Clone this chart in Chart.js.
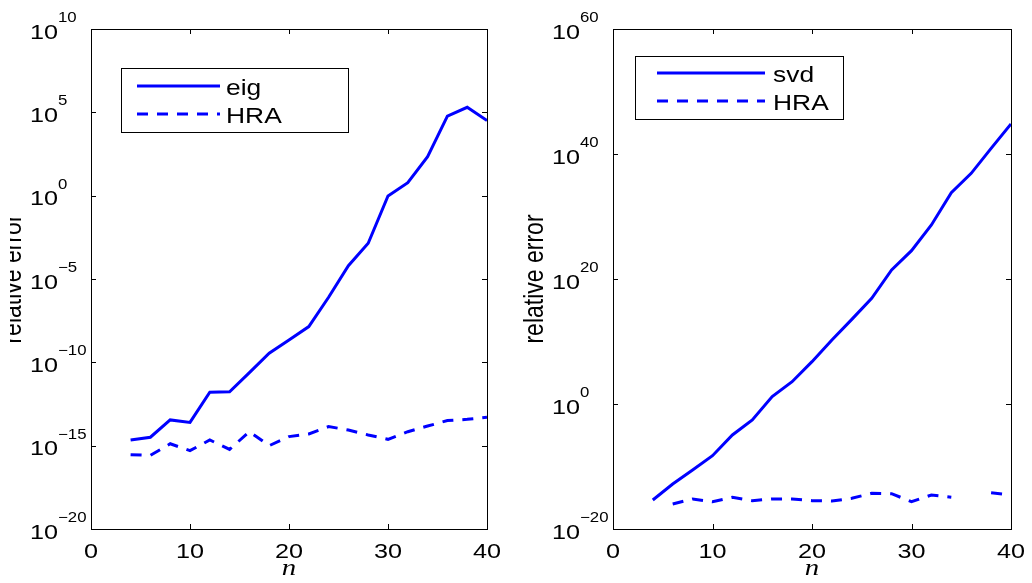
<!DOCTYPE html>
<html lang="en">
<head>
<meta charset="UTF-8">
<title>Relative error vs n</title>
<script src="https://cdn.jsdelivr.net/npm/chart.js"></script>
<style>
  body { margin: 0; background: #fff; }
  .panel { position: absolute; top: 0; width: 516px; height: 583px; }
</style>
</head>
<body>
<div class="panel" style="left:0"><canvas id="eigChart" width="516" height="583"></canvas></div>
<div class="panel" style="left:516px"><canvas id="svdChart" width="516" height="583"></canvas></div>

<script>
// matrix sizes
const nValues = [4, 6, 8, 10, 12, 14, 16, 18, 20, 22, 24, 26, 28, 30, 32, 34, 36, 38, 40];

// left panel: eigenvalues
const eigError = [2.2e-15, 3.2e-15, 3.5e-14, 2.5e-14, 1.6e-12, 1.7e-12, 2.4e-11, 3.5e-10, 2.2e-9, 1.4e-8,
                  8e-7, 6.3e-5, 1.4e-3, 0.95, 6, 220, 6e4, 2e5, 3.2e4];
const hraEigError = [2.9e-16, 2.6e-16, 1.3e-15, 5e-16, 2.2e-15, 6e-16, 6.9e-15, 1e-15, 3.5e-15, 5e-15,
                     1.4e-14, 8.7e-15, 4.4e-15, 2.4e-15, 6.9e-15, 1.5e-14, 3.2e-14, 3.8e-14, 5e-14];

// right panel: singular values
const svdError = [4.4e-16, 1.6e-13, 2.8e-11, 5.4e-9, 1.1e-5, 2.8e-3, 15, 3.7e3, 5.9e6, 1.7e10,
                  3.5e13, 8.1e16, 2.8e21, 3.4e24, 4.4e28, 6.5e33, 8.1e36, 8.1e40, 6.3e44];
const hraSvdError = [null, 1e-16, 6.3e-16, 2.3e-16, 1.2e-15, 3.4e-16, 6.3e-16, 6.3e-16, 3.4e-16, 3e-16,
                     8.1e-16, 5.1e-15, 4.5e-15, 2.3e-16, 2.8e-15, 1.2e-15, null, 6.5e-15, 2.8e-15];

// tick labels
const xTicks = [0, 10, 20, 30, 40];
const eigYExponents = [10, 5, 0, -5, -10, -15, -20];
const svdYExponents = [60, 40, 20, 0, -20];

const BLUE = '#0000ff';
const SANS = '"Liberation Sans", Arial, Helvetica, sans-serif';
const STRETCH = 1.2; // glyphs in the picture are a bit wide

function drawText(ctx, text, x, y, font, align) {
    ctx.save();
    ctx.font = font;
    ctx.textAlign = 'left';
    ctx.textBaseline = 'alphabetic';
    const w = ctx.measureText(text).width * STRETCH;
    const x0 = align === 'center' ? x - w / 2 : x;
    ctx.translate(x0, y);
    ctx.scale(STRETCH, 1);
    ctx.fillText(text, 0, 0);
    ctx.restore();
    return w;
}

// box, inward ticks, labels and legend in the MATLAB way
const matlabAxes = {
    id: 'matlabAxes',
    afterDraw(chart, args, opts) {
        const ctx = chart.ctx;
        const a = chart.chartArea;
        const xs = chart.scales.x, ys = chart.scales.y;
        ctx.save();
        ctx.strokeStyle = '#000';
        ctx.fillStyle = '#000';
        ctx.lineWidth = 1;
        ctx.setLineDash([]);
        ctx.strokeRect(a.left + 0.5, a.top + 0.5, a.right - a.left, a.bottom - a.top);

        ctx.beginPath();
        xTicks.forEach(v => {
            const px = Math.round(xs.getPixelForValue(v)) + 0.5;
            ctx.moveTo(px, a.bottom); ctx.lineTo(px, a.bottom - 5);
            ctx.moveTo(px, a.top); ctx.lineTo(px, a.top + 5);
        });
        opts.yExponents.forEach(e => {
            const py = Math.round(ys.getPixelForValue(Math.pow(10, e))) + 0.5;
            ctx.moveTo(a.left, py); ctx.lineTo(a.left + 5, py);
            ctx.moveTo(a.right, py); ctx.lineTo(a.right - 5, py);
        });
        ctx.stroke();

        // x tick labels
        xTicks.forEach(v => {
            drawText(ctx, String(v), xs.getPixelForValue(v), a.bottom + 29, '21px ' + SANS, 'center');
        });
        // y tick labels 10^k
        opts.yExponents.forEach(e => {
            const py = ys.getPixelForValue(Math.pow(10, e));
            const bx = a.left - 61;
            const w = drawText(ctx, '10', bx, py + 9.5, '21px ' + SANS);
            const exp = e < 0 ? '\u2212' + (-e) : String(e);
            drawText(ctx, exp, bx + w, py - 7, '14px ' + SANS);
        });

        // x label
        const cx = (a.left + a.right) / 2;
        drawText(ctx, 'n', cx, 575, 'italic 24px "Liberation Serif", "Times New Roman", serif', 'center');

        // y label
        ctx.save();
        ctx.beginPath();
        ctx.rect(opts.yLabelClip, 0, chart.width, chart.height);
        ctx.clip();
        ctx.font = '23px ' + SANS;
        ctx.textAlign = 'center';
        ctx.textBaseline = 'alphabetic';
        ctx.translate(a.left - 70, (a.top + a.bottom) / 2);
        ctx.scale(STRETCH, 1);
        ctx.rotate(-Math.PI / 2);
        ctx.fillText('relative error', 0, 0);
        ctx.restore();

        // legend
        const lg = opts.legend;
        ctx.fillStyle = '#fff';
        ctx.fillRect(lg.box[0], lg.box[1], lg.box[2] - lg.box[0], lg.box[3] - lg.box[1]);
        ctx.strokeStyle = '#000';
        ctx.lineWidth = 1;
        ctx.strokeRect(lg.box[0] + 0.5, lg.box[1] + 0.5, lg.box[2] - lg.box[0], lg.box[3] - lg.box[1]);
        lg.items.forEach((item, i) => {
            const ly = lg.rows[i];
            ctx.strokeStyle = BLUE;
            ctx.lineWidth = 3;
            ctx.setLineDash(item.dash);
            ctx.beginPath();
            ctx.moveTo(lg.line[0], ly);
            ctx.lineTo(lg.line[1], ly);
            ctx.stroke();
            ctx.fillStyle = '#000';
            drawText(ctx, item.label, lg.textX, ly + 9, '22px ' + SANS);
        });
        ctx.setLineDash([]);
        ctx.restore();
    }
};

function toPoints(values) {
    return nValues.map((n, i) => ({ x: n, y: values[i] }));
}

function makeChart(id, series, yMin, yMax, yExponents, yWidth, padRight, legend, clip) {
    return new Chart(document.getElementById(id), {
        type: 'line',
        data: {
            datasets: series.map(s => ({
                label: s.label,
                data: toPoints(s.values),
                borderColor: BLUE,
                borderWidth: 3,
                borderDash: s.dash,
                pointRadius: 0,
                tension: 0,
                fill: false,
                spanGaps: false
            }))
        },
        options: {
            responsive: false,
            animation: false,
            layout: { padding: { left: 0, right: padRight, top: 29, bottom: 0 } },
            scales: {
                x: {
                    type: 'linear', min: 0, max: 40,
                    ticks: { display: false },
                    grid: { display: false, drawTicks: false },
                    border: { display: false },
                    afterFit: scale => { scale.height = 54; }
                },
                y: {
                    type: 'logarithmic', min: yMin, max: yMax,
                    ticks: { display: false },
                    grid: { display: false, drawTicks: false },
                    border: { display: false },
                    afterFit: scale => { scale.width = yWidth; }
                }
            },
            plugins: {
                legend: { display: false },
                tooltip: { enabled: false },
                matlabAxes: { yExponents: yExponents, legend: legend, yLabelClip: clip }
            }
        },
        plugins: [matlabAxes]
    });
}

makeChart('eigChart',
    [{ label: 'eig', values: eigError, dash: [] },
     { label: 'HRA', values: hraEigError, dash: [11, 9] }],
    1e-20, 1e10, eigYExponents, 91, 29,
    { box: [121, 68, 348, 132], line: [137, 220], rows: [86, 114], textX: 226,
      items: [{ label: 'eig', dash: [] }, { label: 'HRA', dash: [11, 9] }] },
    10);

makeChart('svdChart',
    [{ label: 'svd', values: svdError, dash: [] },
     { label: 'HRA', values: hraSvdError, dash: [11, 9] }],
    1e-20, 1e60, svdYExponents, 97, 21,
    { box: [119, 56, 327, 119], line: [141, 249], rows: [73, 101], textX: 257,
      items: [{ label: 'svd', dash: [] }, { label: 'HRA', dash: [11, 9] }] },
    0);
</script>
</body>
</html>
